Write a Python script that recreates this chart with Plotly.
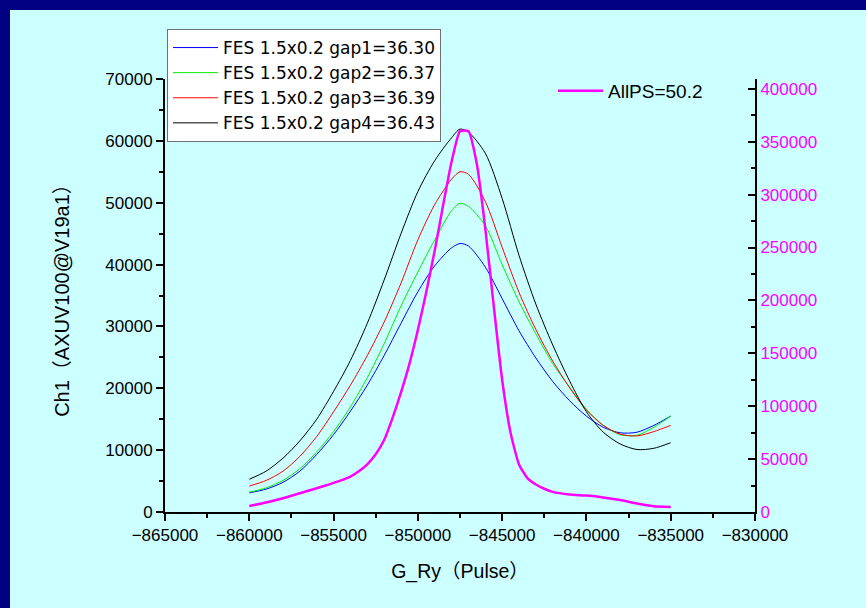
import plotly.graph_objects as go

# ---- data ----
x_gap = [-860000, -859000, -858000, -857000, -856000, -855000, -854000, -853000,
         -852000, -851000, -850000, -849000, -848000, -847500, -847000, -846000,
         -845000, -844000, -843000, -842000, -841000, -840000, -839000, -838000,
         -837000, -836000, -835000]
gap1 = [3100, 3700, 4800, 6600, 9300, 12500, 16300, 20500, 25300, 30500, 35600, 39800,
        42700, 43400, 43000, 39600, 34500, 29300, 24900, 21100, 18000, 15500, 13700,
        12800, 12900, 14000, 15500]
gap2 = [3200, 3900, 5100, 7000, 9700, 13000, 17000, 21700, 27200, 33300, 38800, 44000,
        48700, 49900, 49400, 46300, 40000, 34000, 28800, 24000, 20200, 16600, 14000,
        12500, 12400, 13700, 15500]
gap3 = [4200, 5100, 6600, 9000, 12200, 16200, 20500, 25300, 30700, 37000, 44000, 49700,
        53800, 55000, 54600, 50200, 42800, 35500, 29500, 24400, 20100, 16500, 14000,
        12600, 12300, 13000, 14000]
gap4 = [5300, 6600, 8700, 11500, 15000, 19500, 24500, 30500, 37500, 45000, 51800, 56800,
        60500, 61900, 61400, 58000, 50700, 41500, 33600, 27000, 21200, 16200, 12900,
        11000, 10100, 10300, 11200]

x_ps = [-860000, -859000, -858000, -857000, -856000, -855000, -854000, -853500, -853000,
        -852500, -852000, -851500, -851000, -850500, -850000, -849500, -849000, -848500,
        -848000, -847500, -847000, -846500, -846000, -845500, -845000, -844500, -844000,
        -843500, -843000, -842500, -842000, -841000, -840000, -839000, -838000, -837000,
        -836000, -835000]
allps = [5700, 9000, 13000, 17700, 22400, 27500, 33500, 38500, 45000,
         54500, 68000, 89000, 113000, 140000, 172000, 208000, 247000, 290000,
         331000, 360000, 360000, 329000, 268000, 195000, 125000, 75000, 45000,
         32000, 26000, 22000, 19000, 16500, 15500, 13800, 11300, 8000,
         5500, 4700]

gap_names = ["FES 1.5x0.2 gap1=36.30", "FES 1.5x0.2 gap2=36.37",
             "FES 1.5x0.2 gap3=36.39", "FES 1.5x0.2 gap4=36.43"]
gap_colors = ["#0000FF", "#00EE00", "#FF0000", "#000000"]
ps_name = "AllPS=50.2"

x_title = "G_Ry（Pulse）"
y_title = "Ch1（AXUV100@V19a1）"

FONT = "Liberation Sans, Arial, Noto Sans CJK JP, sans-serif"
LFONT = "DejaVu Sans, Liberation Sans, sans-serif"
BG = "#CCFFFF"
NAVY = "#000080"

fig = go.Figure()
for name, ys, col in zip(gap_names, [gap1, gap2, gap3, gap4], gap_colors):
    fig.add_trace(go.Scatter(x=x_gap, y=ys, mode="lines", name=name,
                             line=dict(color=col, width=1, shape="spline", smoothing=0.8),
                             legend="legend"))
fig.add_trace(go.Scatter(x=x_ps, y=allps, mode="lines", name=ps_name, yaxis="y2",
                         line=dict(color="#FF00FF", width=2.5, shape="spline", smoothing=0.5),
                         legend="legend2"))

W, H = 866, 608
L, R, T, B = 165, 111, 79, 96
pw, ph = W - L - R, H - T - B

def px(xp):
    return (xp - L) / pw

def py(yp):
    return (H - B - yp) / ph

fig.update_layout(
    width=W, height=H,
    margin=dict(l=L, r=R, t=T, b=B, pad=0),
    paper_bgcolor=BG, plot_bgcolor=BG,
    font=dict(family=FONT, size=17, color="black"),
    showlegend=True,
    xaxis=dict(range=[-865000, -830000], dtick=5000, tick0=-865000, tickformat="d",
               ticks="outside", ticklen=7, tickwidth=1.5, tickcolor="black",
               minor=dict(dtick=2500, ticks="outside", ticklen=4, tickwidth=1.5, tickcolor="black"),
               showline=True, linecolor="black", linewidth=2, showgrid=False, zeroline=False,
               title=dict(text=x_title, font=dict(size=19.5), standoff=20),
               tickfont=dict(size=17)),
    yaxis=dict(range=[0, 70000], dtick=10000, tickformat="d",
               ticks="outside", ticklen=7, tickwidth=1.5, tickcolor="black",
               minor=dict(dtick=5000, ticks="outside", ticklen=4, tickwidth=1.5, tickcolor="black"),
               showline=True, linecolor="black", linewidth=2, showgrid=False, zeroline=False,
               title=dict(text=y_title, font=dict(size=20), standoff=30),
               tickfont=dict(size=17)),
    yaxis2=dict(range=[0, 409300], dtick=50000, tickformat="d", overlaying="y", side="right",
                anchor="x",
                ticks="inside", ticklen=7, tickwidth=1.5, tickcolor="black",
                minor=dict(dtick=25000, ticks="inside", ticklen=4, tickwidth=1.5, tickcolor="black"),
                showline=True, linecolor="black", linewidth=2, showgrid=False, zeroline=False,
                tickfont=dict(size=17, color="#FF00FF")),
    legend=dict(x=px(167), y=py(29), xanchor="left", yanchor="top",
                bgcolor="white", bordercolor="#707070", borderwidth=1,
                font=dict(family=LFONT, size=17, color="black"), tracegroupgap=0,
                itemwidth=45),
    legend2=dict(x=px(553), y=py(72), xanchor="left", yanchor="top",
                 bgcolor="rgba(0,0,0,0)", borderwidth=0, itemwidth=45,
                 font=dict(size=19, color="black")),
    shapes=[
        dict(type="rect", xref="paper", yref="paper", x0=px(-5), x1=px(10), y0=py(615), y1=py(-5),
             fillcolor=NAVY, line=dict(width=0), layer="above"),
        dict(type="rect", xref="paper", yref="paper", x0=px(-5), x1=px(875), y0=py(10), y1=py(-5),
             fillcolor=NAVY, line=dict(width=0), layer="above"),
    ],
)

fig.write_html("out.html")
